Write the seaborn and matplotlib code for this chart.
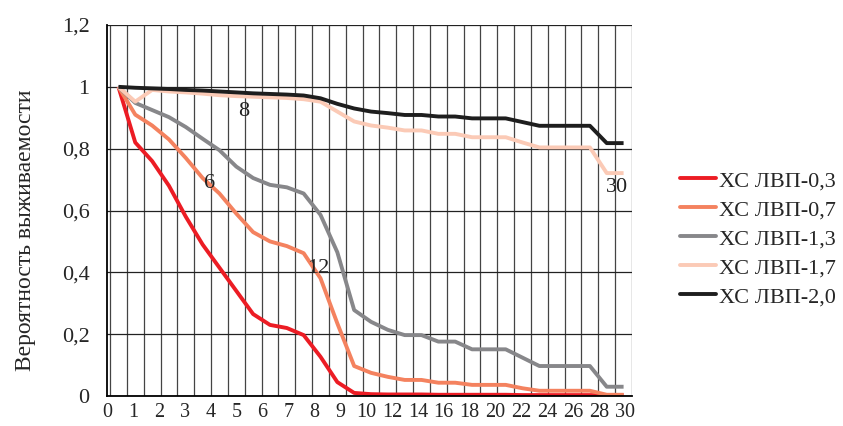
import numpy as np
import pandas as pd
import matplotlib
matplotlib.use("Agg")
import matplotlib.pyplot as plt
import seaborn as sns

# time points (categories 0..30)
t = list(range(31))

# survival probability per series
red = [1.0, 0.82, 0.76, 0.68, 0.58, 0.49, 0.415, 0.34, 0.265, 0.23, 0.22,
       0.197, 0.127, 0.045, 0.01, 0.006, 0.005, 0.005, 0.005, 0.004, 0.004,
       0.004, 0.004, 0.004, 0.003, 0.003, 0.003, 0.003, 0.003, 0.003, 0.003]
orange = [1.0, 0.91, 0.875, 0.83, 0.77, 0.705, 0.655, 0.59, 0.53, 0.50, 0.485,
          0.462, 0.381, 0.235, 0.097, 0.075, 0.062, 0.052, 0.052, 0.043, 0.043,
          0.036, 0.036, 0.036, 0.025, 0.017, 0.017, 0.017, 0.017, 0.004, 0.004]
gray = [1.0, 0.948, 0.925, 0.902, 0.87, 0.832, 0.795, 0.742, 0.705, 0.683, 0.675,
        0.655, 0.586, 0.465, 0.278, 0.24, 0.214, 0.197, 0.197, 0.176, 0.176,
        0.151, 0.151, 0.151, 0.124, 0.097, 0.097, 0.097, 0.097, 0.03, 0.03]
pink = [1.0, 0.952, 0.99, 0.985, 0.982, 0.978, 0.973, 0.97, 0.968, 0.966, 0.964,
        0.96, 0.952, 0.92, 0.888, 0.875, 0.868, 0.859, 0.859, 0.848, 0.848,
        0.837, 0.837, 0.837, 0.82, 0.804, 0.804, 0.804, 0.804, 0.721, 0.721]
black = [1.0, 0.997, 0.995, 0.993, 0.99, 0.988, 0.985, 0.982, 0.979, 0.977, 0.975,
         0.972, 0.963, 0.945, 0.93, 0.92, 0.915, 0.909, 0.909, 0.904, 0.904,
         0.898, 0.898, 0.898, 0.886, 0.874, 0.874, 0.874, 0.874, 0.818, 0.818]

names = ["ХС ЛВП-0,3", "ХС ЛВП-0,7", "ХС ЛВП-1,3", "ХС ЛВП-1,7", "ХС ЛВП-2,0"]
colors = ["#EC1C24", "#F4825F", "#87878A", "#FBCAB6", "#1E1E1E"]

x_labels = ["0", "1", "2", "3", "4", "5", "6", "7", "8", "9", "10", "12", "14",
            "16", "18", "20", "22", "24", "26", "28", "30"]

# point labels written on the curves
notes = ["8", "6", "12", "30"]
notes_x = [7.45, 5.4, 11.84, 29.6]
notes_y = [0.92, 0.688, 0.413, 0.673]

df = pd.DataFrame({
    "t": t * 5,
    "p": red + orange + gray + pink + black,
    "series": sum([[n] * len(t) for n in names], []),
})

sns.set_style("white")
plt.rcParams["font.family"] = ["Liberation Serif", "DejaVu Serif"]
plt.rcParams["font.size"] = 16

fig = plt.figure(figsize=(8.43, 4.26), dpi=100)
ax = fig.add_axes([0.1269, 0.0704, 0.6228, 0.8709])

sns.lineplot(data=df, x="t", y="p", hue="series", hue_order=names,
             palette=colors, linewidth=2.8, ax=ax, legend=False,
             solid_joinstyle="round", solid_capstyle="butt")

ax.set_xlim(-0.5, 30.5)
ax.set_ylim(0, 1.2)

# vertical grid at category boundaries, labels spread separately
ax.set_xticks(np.arange(-0.5, 30.6, 1.0))
ax.set_xticklabels([""] * 32)
ax.set_xticks(np.linspace(-0.68, 30.09, len(x_labels)), minor=True)
ax.set_xticklabels(x_labels, minor=True, fontsize=14.5)
ax.tick_params(axis="x", which="major", direction="out", length=3, width=1, color="black")
ax.tick_params(axis="x", which="minor", length=0, pad=5)

yt = np.arange(0, 1.21, 0.2)
ax.set_yticks(yt)
ax.set_yticklabels([("%g" % round(v, 1)).replace(".", ",") for v in yt], fontsize=16)
ax.tick_params(axis="y", direction="out", length=5, width=1, color="black", pad=7.5)

ax.grid(True, axis="x", which="major", color="#444444", linewidth=0.9)
ax.grid(True, axis="y", which="major", color="#222222", linewidth=0.9)
ax.set_axisbelow(True)

for s in ["top", "right"]:
    ax.spines[s].set_visible(False)
for s in ["left", "bottom"]:
    ax.spines[s].set_color("black")
    ax.spines[s].set_linewidth(1.3)

ax.set_xlabel("")
ax.set_ylabel("Вероятность выживаемости", fontsize=17)
ax.yaxis.set_label_coords(-0.135, 0.447)

for txt, xx, yy in zip(notes, notes_x, notes_y):
    ax.text(xx, yy, txt, fontsize=16, ha="center", va="center", color="#222222")

handles = [plt.Line2D([], [], color=c, linewidth=2.8) for c in colors]
fig.legend(handles, names, loc="center left", bbox_to_anchor=(0.8066, 0.439),
           frameon=False, fontsize=16, handlelength=1.62, handletextpad=0.14,
           labelspacing=0.38, borderpad=0, borderaxespad=0)

fig.savefig("out.png", dpi=100)
